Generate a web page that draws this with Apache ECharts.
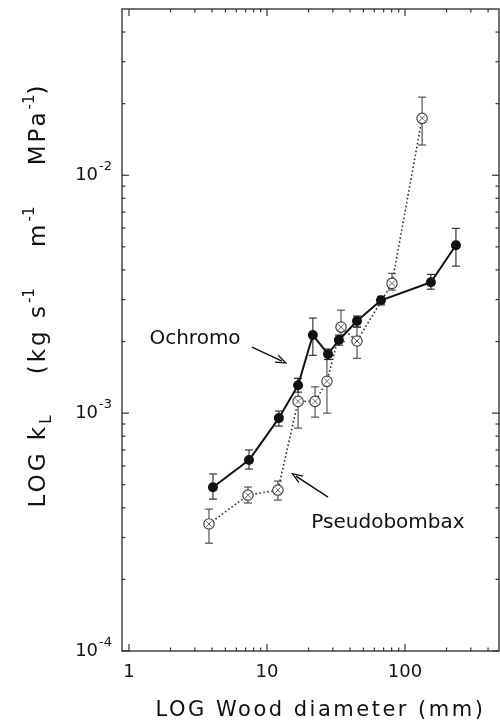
<!DOCTYPE html>
<html><head><meta charset="utf-8">
<script src="https://cdn.jsdelivr.net/npm/echarts@6/dist/echarts.min.js"></script>
<style>html,body{margin:0;padding:0;background:#fff}#c{width:500px;height:721px}</style>
</head><body><div id="c"></div>
<script>
// Ochromo (filled circles, solid line)
const ochromoD  = [4.06, 7.41, 12.2, 16.8, 21.5, 27.7, 33.2, 44.9, 67.0, 154, 234];
const ochromoK  = [4.88e-4, 6.35e-4, 9.53e-4, 1.31e-3, 2.13e-3, 1.77e-3, 2.03e-3, 2.44e-3, 2.98e-3, 3.55e-3, 5.08e-3];
const ochromoLo = [4.35e-4, 5.82e-4, 8.82e-4, 1.225e-3, 1.75e-3, 1.68e-3, 1.93e-3, 2.30e-3, 2.85e-3, 3.32e-3, 4.15e-3];
const ochromoHi = [5.55e-4, 7.00e-4, 1.02e-3, 1.40e-3, 2.51e-3, 1.86e-3, 2.13e-3, 2.56e-3, 3.10e-3, 3.83e-3, 5.98e-3];
// Pseudobombax (open circles, dotted line)
const pseudoD  = [3.80, 7.28, 12.0, 16.8, 22.3, 27.2, 34.4, 44.9, 80.5, 133];
const pseudoK  = [3.42e-4, 4.52e-4, 4.75e-4, 1.12e-3, 1.12e-3, 1.36e-3, 2.30e-3, 2.01e-3, 3.51e-3, 1.736e-2];
const pseudoLo = [2.84e-4, 4.19e-4, 4.31e-4, 8.65e-4, 9.62e-4, 1.00e-3, 2.00e-3, 1.70e-3, 3.29e-3, 1.34e-2];
const pseudoHi = [3.95e-4, 4.89e-4, 5.18e-4, 1.40e-3, 1.29e-3, 1.78e-3, 2.71e-3, 2.30e-3, 3.87e-3, 2.13e-2];
// axis ticks
const xMajor = [1, 10, 100];
const xMinor = [2, 3, 4, 5, 6, 7, 8, 9, 20, 30, 40, 50, 60, 70, 80, 90, 200, 300, 400];
const yMajor = [1e-4, 1e-3, 1e-2];
const yMinor = [2e-4, 3e-4, 4e-4, 5e-4, 6e-4, 7e-4, 8e-4, 9e-4, 2e-3, 3e-3, 4e-3, 5e-3, 6e-3, 7e-3, 8e-3, 9e-3, 2e-2, 3e-2, 4e-2];
// annotations
const annoText = ['Ochromo', 'Pseudobombax'];
const annoAt   = [[3.01, 2.05e-3], [75.3, 3.45e-4]];
const annoFrom = [[7.79, 1.894e-3], [27.7, 4.44e-4]];
const annoTo   = [[12.85, 1.654e-3], [16.2, 5.44e-4]];

const X_MIN = 0.89, X_MAX = 480, Y_MIN = 1e-4, Y_MAX = 0.05;
const FONT = 'DejaVu Sans';
const INK = '#111';

// wide tracking for the two axis titles (identified by their unique font sizes)
(function () {
  const P = window.CanvasRenderingContext2D && CanvasRenderingContext2D.prototype;
  if (!P || !('letterSpacing' in P)) return;
  const mt = P.measureText, ft = P.fillText;
  function ls(ctx) {
    const f = ctx.font || '';
    ctx.letterSpacing = /(^|\s)21px/.test(f) ? '2.5px' : (/(^|\s)23px/.test(f) ? '3px' : '0px');
  }
  P.measureText = function (t) { ls(this); return mt.call(this, t); };
  P.fillText = function () { ls(this); return ft.apply(this, arguments); };
})();

function isPow10(v) {
  const e = Math.round(Math.log10(v));
  return Math.abs(Math.pow(10, e) - v) / v < 1e-6;
}

function tickSeries(vals, isX, len) {
  return {
    type: 'custom', coordinateSystem: 'cartesian2d', silent: true, z: 3, clip: false,
    data: vals.map(v => isX ? [v, Y_MIN * 2] : [X_MIN * 2, v]),
    encode: {x: 0, y: 1},
    renderItem(params, api) {
      const cs = params.coordSys;
      const p = api.coord([api.value(0), api.value(1)]);
      const st = {stroke: '#333', lineWidth: 1.2};
      if (isX) {
        const b = cs.y + cs.height, t = cs.y;
        return {type: 'group', children: [
          {type: 'line', shape: {x1: p[0], y1: b, x2: p[0], y2: b - len}, style: st},
          {type: 'line', shape: {x1: p[0], y1: t, x2: p[0], y2: t + len}, style: st}
        ]};
      }
      const l = cs.x, r = cs.x + cs.width;
      return {type: 'group', children: [
        {type: 'line', shape: {x1: l, y1: p[1], x2: l + len, y2: p[1]}, style: st},
        {type: 'line', shape: {x1: r, y1: p[1], x2: r - len, y2: p[1]}, style: st}
      ]};
    }
  };
}

function errSeries(d, lo, hi, color, z) {
  return {
    type: 'custom', coordinateSystem: 'cartesian2d', silent: true, z: z,
    data: d.map((x, i) => [x, lo[i], hi[i]]),
    encode: {x: 0, y: [1, 2]},
    renderItem(params, api) {
      const a = api.coord([api.value(0), api.value(1)]);
      const b = api.coord([api.value(0), api.value(2)]);
      const w = 4;
      const st = {stroke: color, lineWidth: 1.1};
      return {type: 'group', children: [
        {type: 'line', shape: {x1: a[0], y1: a[1], x2: b[0], y2: b[1]}, style: st},
        {type: 'line', shape: {x1: a[0] - w, y1: a[1], x2: a[0] + w, y2: a[1]}, style: st},
        {type: 'line', shape: {x1: b[0] - w, y1: b[1], x2: b[0] + w, y2: b[1]}, style: st}
      ]};
    }
  };
}

const pseudoMarkers = {
  type: 'custom', coordinateSystem: 'cartesian2d', silent: true, z: 6,
  data: pseudoD.map((x, i) => [x, pseudoK[i]]),
  encode: {x: 0, y: 1},
  renderItem(params, api) {
    const p = api.coord([api.value(0), api.value(1)]);
    const r = 5.2, c = 2.8;
    return {type: 'group', children: [
      {type: 'circle', shape: {cx: p[0], cy: p[1], r: r}, style: {fill: '#fff', stroke: '#444', lineWidth: 1.2}},
      {type: 'line', shape: {x1: p[0] - c, y1: p[1] - c, x2: p[0] + c, y2: p[1] + c}, style: {stroke: '#666', lineWidth: 1}},
      {type: 'line', shape: {x1: p[0] - c, y1: p[1] + c, x2: p[0] + c, y2: p[1] - c}, style: {stroke: '#666', lineWidth: 1}}
    ]};
  }
};

const chart = echarts.init(document.getElementById('c'), null, {renderer: 'canvas'});
chart.setOption({
  animation: false,
  backgroundColor: '#fff',
  grid: {left: 122, top: 9, width: 377, height: 642, containLabel: false, outerBoundsMode: 'none',
         show: true, borderColor: '#444', borderWidth: 1.5, backgroundColor: 'transparent'},
  xAxis: {
    type: 'log', logBase: 10, min: X_MIN, max: X_MAX,
    axisLine: {show: false}, axisTick: {show: false}, splitLine: {show: false}, minorTick: {show: false},
    axisLabel: {
      formatter: v => isPow10(v) ? String(Math.round(v)) : '',
      fontFamily: FONT, fontSize: 18, color: INK, margin: 12
    },
    name: 'LOG Wood diameter (mm)', nameLocation: 'middle', nameGap: 48,
    nameTextStyle: {fontFamily: FONT, fontSize: 21, color: INK, padding: [0, 0, 0, 20]}
  },
  yAxis: {
    type: 'log', logBase: 10, min: Y_MIN, max: Y_MAX,
    axisLine: {show: false}, axisTick: {show: false}, splitLine: {show: false}, minorTick: {show: false},
    axisLabel: {
      formatter: v => isPow10(v) ? '{b|10}{s|-' + (-Math.round(Math.log10(v))) + '}' : '',
      margin: 10,
      rich: {
        b: {fontFamily: FONT, fontSize: 18, color: INK, lineHeight: 30, verticalAlign: 'middle'},
        s: {fontFamily: FONT, fontSize: 13, color: INK, lineHeight: 12, verticalAlign: 'top', padding: [0, 0, 0, 1]}
      }
    },
    name: '{m|LOG k}{sub|L}{m|    (kg s}{sup|-1}{m|    m}{sup|-1}{m|    MPa}{sup|-1}{m|)}',
    nameLocation: 'middle', nameRotate: 90, nameGap: 67,
    nameTextStyle: {
      padding: [0, 0, 0, 70],
      rich: {
        m: {fontFamily: FONT, fontSize: 23, color: INK, lineHeight: 32, verticalAlign: 'middle'},
        sub: {fontFamily: FONT, fontSize: 15, color: INK, lineHeight: 15, verticalAlign: 'bottom'},
        sup: {fontFamily: FONT, fontSize: 15, color: INK, lineHeight: 15, verticalAlign: 'top'}
      }
    }
  },
  series: [
    tickSeries(xMajor, true, 7),
    tickSeries(xMinor, true, 3.5),
    tickSeries(yMajor, false, 7),
    tickSeries(yMinor, false, 3.5),
    errSeries(pseudoD, pseudoLo, pseudoHi, '#444', 4),
    {
      name: 'Pseudobombax', type: 'line', z: 5, symbol: 'none',
      data: pseudoD.map((x, i) => [x, pseudoK[i]]),
      lineStyle: {color: '#333', width: 1.6, type: [1.6, 2.4]}
    },
    pseudoMarkers,
    errSeries(ochromoD, ochromoLo, ochromoHi, '#222', 7),
    {
      name: 'Ochromo', type: 'line', z: 8, symbol: 'circle', symbolSize: 10,
      data: ochromoD.map((x, i) => [x, ochromoK[i]]),
      itemStyle: {color: '#111'},
      lineStyle: {color: '#111', width: 2},
      markPoint: {
        silent: true, symbol: 'rect', symbolSize: 1, itemStyle: {color: 'transparent'},
        label: {show: true, position: 'inside', fontFamily: FONT, fontSize: 20, color: INK},
        data: annoText.map((t, i) => ({coord: annoAt[i], value: t, label: {formatter: t}}))
      },
      markLine: {
        silent: true,
        symbol: ['none', 'path://M0,12 L5,0 L10,12 L8.4,12 L5,3.6 L1.6,12 Z'],
        symbolSize: [9, 12],
        label: {show: false},
        lineStyle: {color: INK, width: 1.5, type: 'solid'},
        data: annoText.map((t, i) => [{coord: annoFrom[i]}, {coord: annoTo[i]}])
      }
    }
  ]
});
</script></body></html>
